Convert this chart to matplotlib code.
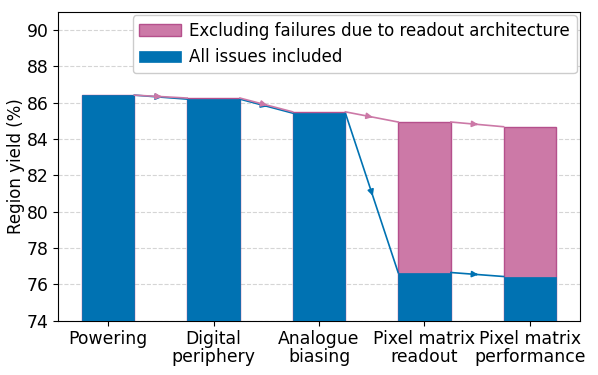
import numpy as np
import matplotlib
matplotlib.use("Agg")
import matplotlib.pyplot as plt

categories = ["Powering", "Digital\nperiphery", "Analogue\nbiasing",
              "Pixel matrix\nreadout", "Pixel matrix\nperformance"]
yield_all = [86.42, 86.2, 85.43, 76.65, 76.43]
yield_excl = [86.42, 86.26, 85.5, 84.94, 84.68]

c_blue = "#0072B2"
c_pink = "#CC79A7"
fs = 12.4
w = 0.5

fig, ax = plt.subplots(figsize=(5.98, 3.75), dpi=100)
x = np.arange(len(categories))

ax.bar(x, yield_excl, width=w, color=c_pink, edgecolor="#B5508C", lw=1.0,
       label="Excluding failures due to readout architecture", zorder=2)
ax.bar(x, yield_all, width=w, color=c_blue, edgecolor=c_blue, lw=0.5,
       label="All issues included", zorder=3)


def connect(vals, col, z):
    for i in range(len(vals) - 1):
        x0, y0 = x[i] + w/2, vals[i]
        x1, y1 = x[i+1] - w/2, vals[i+1]
        ax.plot([x0, x1], [y0, y1], c=col, lw=1.2, zorder=z)
        xm, ym = (x0 + x1)/2, (y0 + y1)/2
        dx, dy = (x1 - x0)*0.02, (y1 - y0)*0.02
        ax.annotate("", xy=(xm + dx, ym + dy), xytext=(xm - dx, ym - dy),
                    arrowprops=dict(arrowstyle="-|>", color=col, lw=1.2,
                                    mutation_scale=9, shrinkA=0, shrinkB=0),
                    zorder=z + 1)


connect(yield_all, c_blue, 4)
connect(yield_excl, c_pink, 6)

ax.set_ylim(74, 91)
ax.set_yticks(np.arange(74, 91, 2))
ax.set_xticks(x)
ax.set_xticklabels(categories, fontsize=fs, linespacing=1.0)
ax.tick_params(axis="y", labelsize=fs)
ax.set_ylabel("Region yield (%)", fontsize=fs - 0.4, labelpad=1)
ax.grid(axis="y", ls="--", color="#d5d5d5", lw=0.8, zorder=0)
ax.set_axisbelow(True)
ax.legend(loc="upper right", fontsize=12, framealpha=1.0,
          borderaxespad=0.2, handlelength=2.5, handletextpad=0.5)

plt.subplots_adjust(left=0.097, right=0.97, top=0.968, bottom=0.145)
plt.savefig("out.png", dpi=100)
